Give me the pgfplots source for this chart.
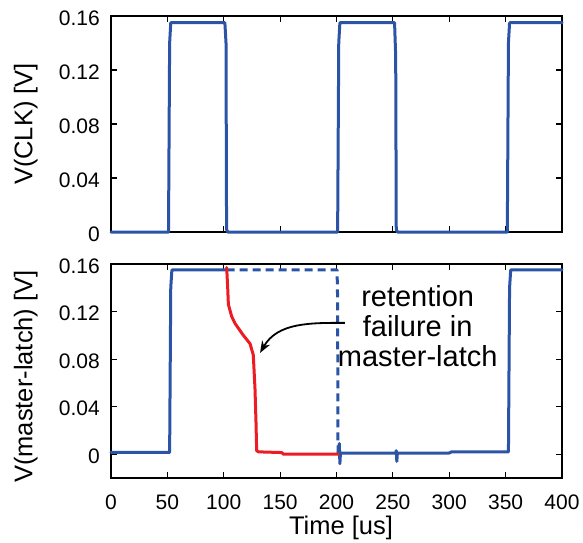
\documentclass[border=0pt]{standalone}
\usepackage{fontspec}
\setmainfont{Liberation Sans}
\usepackage{pgfplots}
\pgfplotsset{compat=1.18}
\usetikzlibrary{arrows.meta}
\definecolor{myblue}{RGB}{43,84,166}
\definecolor{myred}{RGB}{237,28,36}
\pgfplotsset{
  myaxis/.style={
    scale only axis, width=451pt, xmin=0, xmax=400,
    clip=false,
    xtick={0,50,...,400},
    ytick={0,0.04,0.08,0.12,0.16},
    yticklabels={0,0.04,0.08,0.12,0.16},
    tick align=inside, major tick length=6pt,
    axis line style={line width=1.6pt},
    every tick/.style={black, line width=1.2pt},
    /pgf/number format/assume math mode=true,
    tick label style={font=\fontsize{21}{24}\selectfont},
    xticklabel style={inner sep=0pt, yshift=-17pt},
    yticklabel style={inner sep=0pt, xshift=-11pt, yshift=-2pt},
    every axis y label/.style={rotate=90, anchor=south, inner sep=0pt, font=\fontsize{25.5}{30}\selectfont},
    every axis x label/.style={at={(axis description cs:0.51,0)}, anchor=base, yshift=-56pt, inner sep=0pt, font=\fontsize{25.5}{30}\selectfont},
  },
  sig/.style={line width=3pt, line join=round, line cap=round},
}
\begin{document}
\begin{tikzpicture}[x=1pt,y=1pt]
\useasboundingbox (0,0) rectangle (583,542);
% ---------------- top: clock ----------------
\begin{axis}[myaxis, at={(111pt,310pt)}, anchor=south west, height=216pt,
  ymin=0, ymax=0.16, xticklabels={},
  ylabel={V(CLK) [V]},
  ylabel style={at={(axis description cs:-0.162,0.5)}}]
\addplot[sig, myblue] coordinates {
(0,0) (51,0) (52,0.14) (53,0.155) (101,0.155) (102,0.14) (102.5,0.002) (103.5,0)
(201,0) (202,0.14) (203,0.155) (251.5,0.155) (252.5,0.13) (253,0.002) (254,0)
(351.5,0) (352.5,0.14) (353.5,0.155) (400,0.155)};
\end{axis}
% ---------------- bottom: master latch ----------------
\begin{axis}[myaxis, at={(111pt,64pt)}, anchor=south west, height=214pt,
  ymin=-0.02, ymax=0.16,
  xlabel={Time [us]},
  ylabel={V(master-latch) [V]},
  ylabel style={at={(axis description cs:-0.162,0.474)}}]
\addplot[sig, myblue, dash pattern=on 8pt off 5pt, line cap=butt] coordinates {
(102.5,0.155) (200.5,0.155) (201,0.13) (201.3,0.01) (201.5,0)};
\addplot[sig, myblue] coordinates {
(0,0.0015) (52,0.0015) (53,0.14) (54,0.155) (102.5,0.155)};
\addplot[sig, myblue] coordinates {
(201.6,0.001) (202.5,0.009) (203,-0.008) (203.5,0.001) (252.5,0.001) (253,0.003) (253.5,-0.006) (254,0.001)
(300,0.001) (302,0.002) (352.5,0.002) (353.5,0.14) (354.5,0.155) (400,0.155)};
\addplot[sig, myred] coordinates {
(102.6,0.157) (103.5,0.140) (104.1,0.126) (107,0.116) (110,0.110) (117.4,0.100)
(123.3,0.093) (126.2,0.0835) (127.7,0.0554) (128.6,0.027) (129.2,0.003) (130.7,0.002)
(151.4,0.0014) (153,0.0) (201.6,0.0)};
\draw[-{Stealth[length=12pt,width=9pt]}, line width=1.8pt, black]
  (axis cs:207.5,0.1105) to[out=180, in=60] (axis cs:132.2,0.0852);
\node[align=center, font=\fontsize{29}{30}\selectfont, inner sep=0pt]
  at (axis cs:272,0.1075) {retention\\failure in\\master-latch};
\end{axis}
\end{tikzpicture}
\end{document}
